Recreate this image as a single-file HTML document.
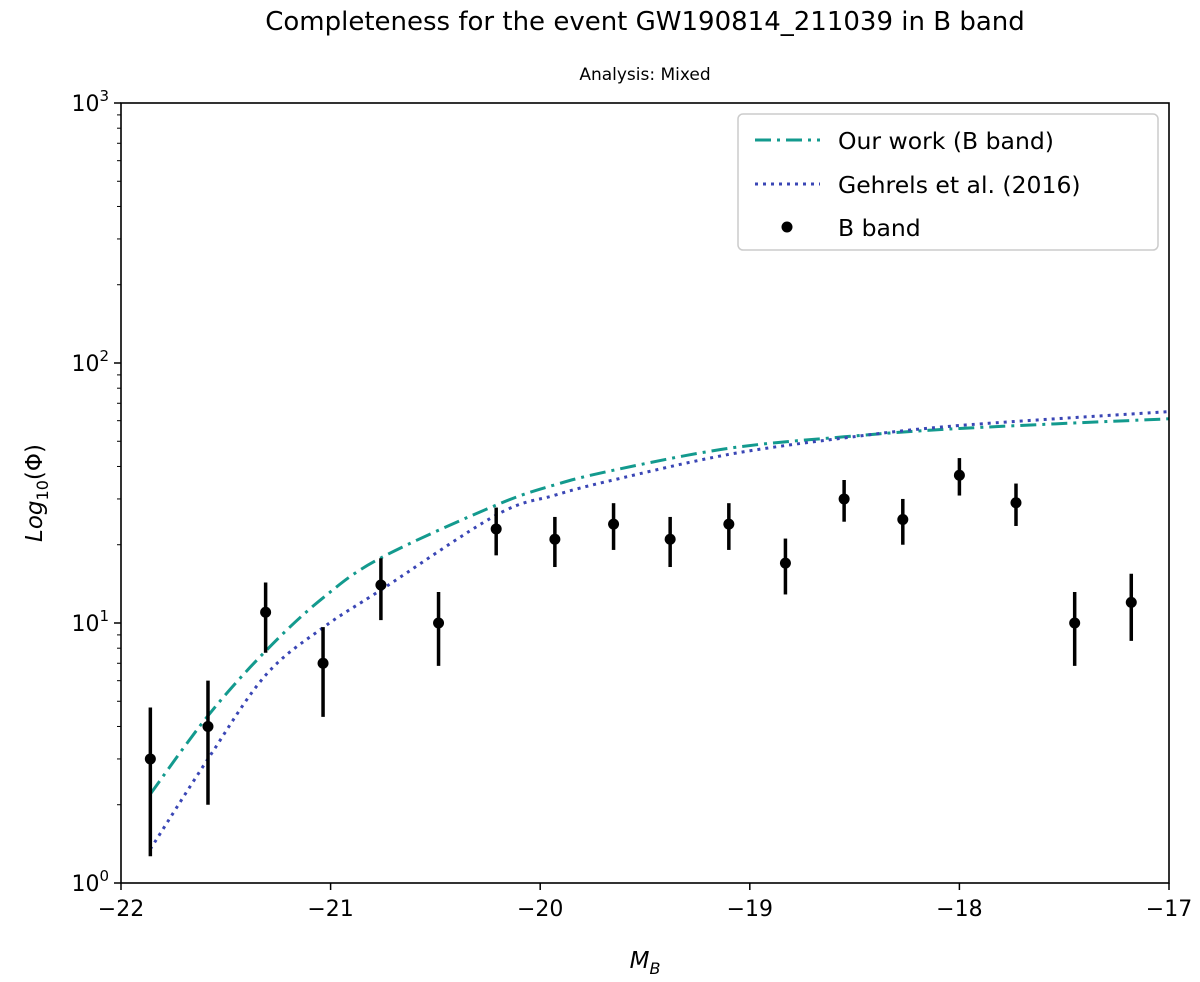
<!DOCTYPE html>
<html><head><meta charset="utf-8"><style>
body{margin:0;background:#fff;width:1200px;height:977px;overflow:hidden}
svg{font-family:"DejaVu Sans","Liberation Sans",sans-serif}
</style></head><body>
<svg id="chart" width="1200" height="977" xmlns="http://www.w3.org/2000/svg">
<text x="645" y="30" font-size="26" text-anchor="middle">Completeness for the event GW190814_211039 in B band</text>
<text x="645" y="80" font-size="17" text-anchor="middle">Analysis: Mixed</text>
<g id="plot"></g>
</svg>
<script>
const xTicks=[-22,-21,-20,-19,-18,-17];
const yDecades=[0,1,2,3];
const pointX=[-21.86,-21.585,-21.31,-21.036,-20.76,-20.485,-20.21,-19.93,-19.65,-19.38,-19.10,-18.83,-18.55,-18.27,-18.0,-17.73,-17.45,-17.18];
const pointY=[3,4,11,7,14,10,23,21,24,21,24,17,30,25,37,29,10,12];
const curveX=[-21.86,-21.585,-21.31,-21.036,-20.76,-20.21,-19.93,-19.65,-19.1,-18.55,-18.0,-17.0];
const ourWork=[2.2,4.4,7.8,12.5,17.8,28.4,34,38.7,47,52,56,61];
const gehrels=[1.35,3.0,6.3,9.6,13.4,26,31,35.5,44.5,51.5,57.5,65];

const L=121,R=1169,T=103,B=883;
const xs=v=>L+(v+22)/5*(R-L);
const ys=v=>B-Math.log10(v)/3*(B-T);
const NS="http://www.w3.org/2000/svg";
const g=document.getElementById('plot');
function mk(tag,attrs,parent){const e=document.createElementNS(NS,tag);for(const k in attrs)e.setAttribute(k,attrs[k]);(parent||g).appendChild(e);return e;}

function smoothPath(pts){
  let d='M'+pts[0][0].toFixed(1)+','+pts[0][1].toFixed(1);
  for(let i=0;i<pts.length-1;i++){
    const p0=pts[Math.max(i-1,0)],p1=pts[i],p2=pts[i+1],p3=pts[Math.min(i+2,pts.length-1)];
    const c1=[p1[0]+(p2[0]-p0[0])/6,p1[1]+(p2[1]-p0[1])/6];
    const c2=[p2[0]-(p3[0]-p1[0])/6,p2[1]-(p3[1]-p1[1])/6];
    d+='C'+c1.map(v=>v.toFixed(1)).join(',')+' '+c2.map(v=>v.toFixed(1)).join(',')+' '+p2.map(v=>v.toFixed(1)).join(',');
  }
  return d;
}
function curve(vals,stroke,dash,name){
  const pts=curveX.map((x,i)=>[xs(x),ys(vals[i])]);
  const p=mk('path',{d:smoothPath(pts),fill:'none',stroke:stroke,'stroke-width':3,'stroke-dasharray':dash});
  
  
}
curve(ourWork,'#139a8e','16,6,3,6','our-work-line');
curve(gehrels,'#3a46b5','3,5','gehrels-line');

pointX.forEach((x,i)=>{
  const v=pointY[i],e=Math.sqrt(v);
  const ln=mk('line',{x1:xs(x),x2:xs(x),y1:ys(v+e),y2:ys(Math.max(v-e,0.01)),stroke:'#000','stroke-width':3.5});
  
  
  const c=mk('circle',{cx:xs(x),cy:ys(v),r:5.5,fill:'#000'});
  
  
});

const fr=mk('rect',{x:L,y:T,width:R-L,height:B-T,fill:'none',stroke:'#000','stroke-width':1.6});



xTicks.forEach(t=>{
  mk('line',{x1:xs(t),x2:xs(t),y1:B,y2:B+7,stroke:'#000','stroke-width':1.5});
  const tx=mk('text',{x:xs(t),y:B+33,'font-size':22,'text-anchor':'middle'});
  tx.textContent='\u2212'+Math.abs(t);
  
  
});
yDecades.forEach(d=>{
  const y=ys(Math.pow(10,d));
  mk('line',{x1:L-7,x2:L,y1:y,y2:y,stroke:'#000','stroke-width':1.5});
  const tx=mk('text',{x:L-12,y:y+8,'font-size':22,'text-anchor':'end'});
  tx.innerHTML='10<tspan dy="-10" font-size="15">'+d+'</tspan>';
  
  
  if(d<3)for(let m=2;m<10;m++){const yy=ys(m*Math.pow(10,d));mk('line',{x1:L-4,x2:L,y1:yy,y2:yy,stroke:'#000','stroke-width':1});}
});

const xl=mk('text',{x:645,y:968,'font-size':23,'text-anchor':'middle','font-style':'italic'});
xl.innerHTML='M<tspan dy="6" font-size="16">B</tspan>';


const yl=mk('text',{transform:'translate(42,493) rotate(-90)','font-size':23,'text-anchor':'middle'});
yl.innerHTML='<tspan font-style="italic">Log</tspan><tspan dy="6" font-size="16">10</tspan><tspan dy="-6">(Φ)</tspan>';



const lg=mk('g',{});


mk('rect',{x:738,y:114,width:420,height:136,rx:5,fill:'#fff',stroke:'#ccc','stroke-width':1.5},lg);
mk('line',{x1:755,x2:820,y1:140,y2:140,stroke:'#139a8e','stroke-width':3,'stroke-dasharray':'16,6,3,6'},lg);
mk('line',{x1:755,x2:820,y1:184,y2:184,stroke:'#3a46b5','stroke-width':3,'stroke-dasharray':'3,5'},lg);
mk('circle',{cx:787,cy:227,r:5.5,fill:'#000'},lg);
[['Our work (B band)',149],['Gehrels et al. (2016)',193],['B band',236]].forEach(([s,y])=>{
  const t=mk('text',{x:838,y:y,'font-size':23.5},lg);t.textContent=s;
  
  
});
</script>
</body></html>
